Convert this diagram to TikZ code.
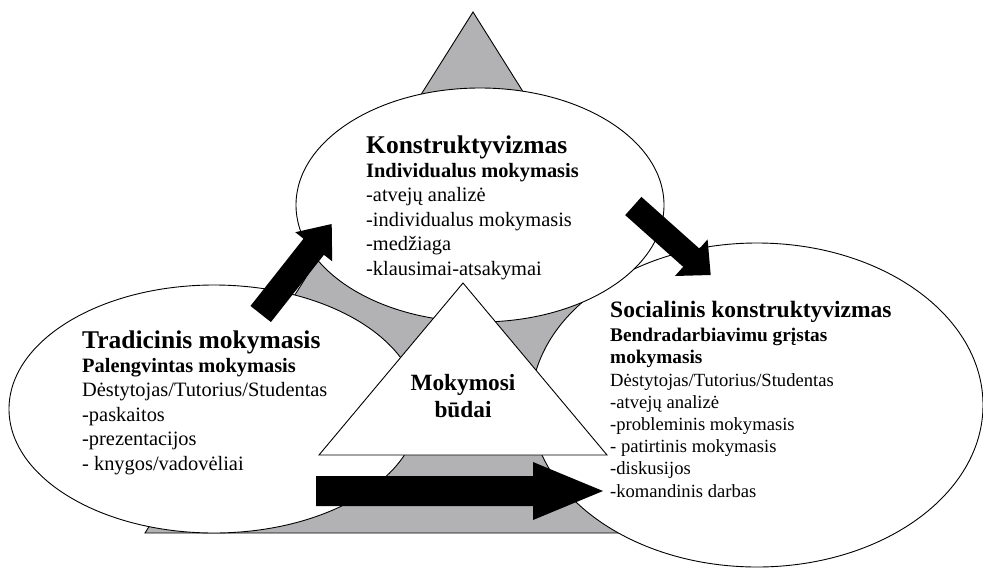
\documentclass[tikz,border=0pt]{standalone}
\usepackage{fontspec}
\setmainfont{Liberation Serif}
\usetikzlibrary{shapes.geometric,calc}
\definecolor{basegrey}{RGB}{178,178,180}
\tikzset{
  outline/.style={draw=black,line width=0.9pt},
  bubble/.style={ellipse,outline,fill=white,inner sep=0pt},
  blockfill/.style={fill=black},
  % multi-line text blocks are placed by the baseline of their last line
  bodytext/.style={anchor=base west,align=left,inner sep=0pt},
}
% block arrow: #1 tail, #2 tip, #3 shaft half-width, #4 head half-width, #5 head length
\newcommand\blockarrow[5]{%
  \path coordinate (ba-hb) at ($(#2)!#5!(#1)$);
  \fill[blockfill] ($(#1)!#3!90:(#2)$) -- ($(ba-hb)!#3!90:(#2)$) -- ($(ba-hb)!#4!90:(#2)$) -- (#2)
    -- ($(ba-hb)!#4!-90:(#2)$) -- ($(ba-hb)!#3!-90:(#2)$) -- ($(#1)!#3!-90:(#2)$) -- cycle;
}
\begin{document}
\begin{tikzpicture}[x=1pt,y=-1pt]
\useasboundingbox (0,0) rectangle (983,568);
% grey base triangle
\draw[outline,fill=basegrey] (473,12) -- (800,533) -- (145,533) -- cycle;
% the three approaches
\node[bubble,minimum width=452pt,minimum height=324pt] (social) at (757,405) {};
\node[bubble,minimum width=410pt,minimum height=248pt] (trad) at (214,409) {};
\node[bubble,minimum width=368pt,minimum height=234pt] (konst) at (480,205) {};
% central triangle
\draw[outline,fill=white] (463,283) -- (607,455) -- (319,455) -- cycle;
\node[font=\fontsize{23.3}{27}\selectfont\bfseries,align=center,anchor=base,inner sep=0pt] (modes) at (463,417) {Mokymosi\\būdai};
% texts
\node[bodytext,font=\fontsize{20.4}{24.4}\selectfont] (konsttext) at (366,275)
  {{\fontsize{25.5}{24.4}\selectfont\bfseries Konstruktyvizmas}\\
   \textbf{Individualus mokymasis}\\
   -atvejų analizė\\
   -individualus mokymasis\\
   -medžiaga\\
   -klausimai-atsakymai};
\node[bodytext,font=\fontsize{20.4}{24.4}\selectfont] (tradtext) at (82,470)
  {{\fontsize{25.5}{24.4}\selectfont\bfseries Tradicinis mokymasis}\\
   \textbf{Palengvintas mokymasis}\\
   Dėstytojas/Tutorius/Studentas\\
   -paskaitos\\
   -prezentacijos\\
   - knygos/vadovėliai};
\node[bodytext,font=\fontsize{18.6}{22.2}\selectfont] (socialtext) at (610,497)
  {{\fontsize{23.5}{22.2}\selectfont\bfseries Socialinis konstruktyvizmas}\\[1.8pt]
   \textbf{\fontsize{19.3}{22.2}\selectfont Bendradarbiavimu grįstas}\\
   \textbf{\fontsize{19.3}{22.2}\selectfont mokymasis}\\
   Dėstytojas/Tutorius/Studentas\\
   -atvejų analizė\\
   -probleminis mokymasis\\
   - patirtinis mokymasis\\
   -diskusijos\\
   -komandinis darbas};
% arrows between the approaches
\coordinate (a1tail) at (260.7,314);
\coordinate (a1tip) at (331.7,224);
\coordinate (a2tail) at (633.3,206);
\coordinate (a2tip) at (710.7,275);
\coordinate (a3tail) at (316,491);
\coordinate (a3tip) at (603,491);
\blockarrow{a1tail}{a1tip}{13pt}{23.5pt}{29pt}
\blockarrow{a2tail}{a2tip}{12.2pt}{24.5pt}{26pt}
\blockarrow{a3tail}{a3tip}{15pt}{29pt}{70pt}
\end{tikzpicture}
\end{document}
